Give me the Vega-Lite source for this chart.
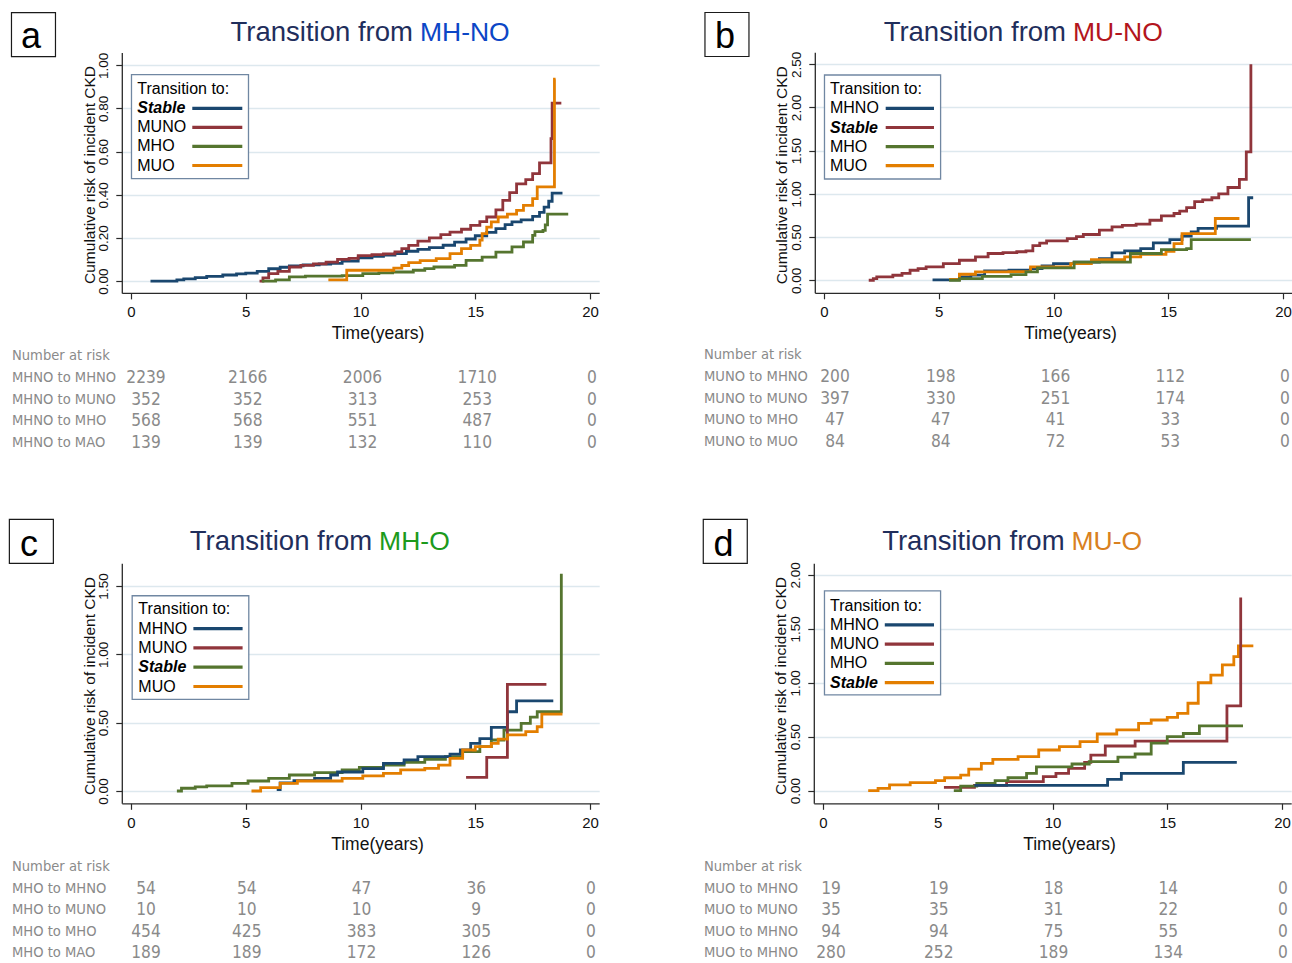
{
  "$schema": "https://vega.github.io/schema/vega-lite/v6.json",
  "padding": 0,
  "spacing": 0,
  "background": "#ffffff",
  "config": {
    "view": {"stroke": null},
    "font": "Liberation Sans",
    "text": {"font": "Liberation Sans"},
    "axis": {"domainColor": "#2a2a2a", "domainWidth": 1.3, "tickColor": "#2a2a2a", "tickWidth": 1.2, "tickSize": 6, "labelColor": "#111111", "titleColor": "#111111", "titleFontWeight": "normal", "labelFont": "Liberation Sans", "titleFont": "Liberation Sans", "labelOverlap": false}
  },
  "datasets": {
    "titles": [
      {"panel": "a", "letter": "a", "lead": "Transition from", "state": "MH-NO"},
      {"panel": "b", "letter": "b", "lead": "Transition from", "state": "MU-NO"},
      {"panel": "c", "letter": "c", "lead": "Transition from", "state": "MH-O"},
      {"panel": "d", "letter": "d", "lead": "Transition from", "state": "MU-O"}
    ],
    "legend": [
      {"panel": "a", "slot": 0, "kind": "title", "series": null, "label": "Transition to:"},
      {"panel": "a", "slot": 1, "kind": "stable", "series": "MHNO", "label": "Stable"},
      {"panel": "a", "slot": 2, "kind": "entry", "series": "MUNO", "label": "MUNO"},
      {"panel": "a", "slot": 3, "kind": "entry", "series": "MHO", "label": "MHO"},
      {"panel": "a", "slot": 4, "kind": "entry", "series": "MUO", "label": "MUO"},
      {"panel": "b", "slot": 0, "kind": "title", "series": null, "label": "Transition to:"},
      {"panel": "b", "slot": 1, "kind": "entry", "series": "MHNO", "label": "MHNO"},
      {"panel": "b", "slot": 2, "kind": "stable", "series": "MUNO", "label": "Stable"},
      {"panel": "b", "slot": 3, "kind": "entry", "series": "MHO", "label": "MHO"},
      {"panel": "b", "slot": 4, "kind": "entry", "series": "MUO", "label": "MUO"},
      {"panel": "c", "slot": 0, "kind": "title", "series": null, "label": "Transition to:"},
      {"panel": "c", "slot": 1, "kind": "entry", "series": "MHNO", "label": "MHNO"},
      {"panel": "c", "slot": 2, "kind": "entry", "series": "MUNO", "label": "MUNO"},
      {"panel": "c", "slot": 3, "kind": "stable", "series": "MHO", "label": "Stable"},
      {"panel": "c", "slot": 4, "kind": "entry", "series": "MUO", "label": "MUO"},
      {"panel": "d", "slot": 0, "kind": "title", "series": null, "label": "Transition to:"},
      {"panel": "d", "slot": 1, "kind": "entry", "series": "MHNO", "label": "MHNO"},
      {"panel": "d", "slot": 2, "kind": "entry", "series": "MUNO", "label": "MUNO"},
      {"panel": "d", "slot": 3, "kind": "entry", "series": "MHO", "label": "MHO"},
      {"panel": "d", "slot": 4, "kind": "stable", "series": "MUO", "label": "Stable"}
    ],
    "riskLabels": [
      {"panel": "a", "row": 0, "label": "Number at risk"},
      {"panel": "a", "row": 1, "label": "MHNO to MHNO"},
      {"panel": "a", "row": 2, "label": "MHNO to MUNO"},
      {"panel": "a", "row": 3, "label": "MHNO to MHO"},
      {"panel": "a", "row": 4, "label": "MHNO to MAO"},
      {"panel": "b", "row": 0, "label": "Number at risk"},
      {"panel": "b", "row": 1, "label": "MUNO to MHNO"},
      {"panel": "b", "row": 2, "label": "MUNO to MUNO"},
      {"panel": "b", "row": 3, "label": "MUNO to MHO"},
      {"panel": "b", "row": 4, "label": "MUNO to MUO"},
      {"panel": "c", "row": 0, "label": "Number at risk"},
      {"panel": "c", "row": 1, "label": "MHO to MHNO"},
      {"panel": "c", "row": 2, "label": "MHO to MUNO"},
      {"panel": "c", "row": 3, "label": "MHO to MHO"},
      {"panel": "c", "row": 4, "label": "MHO to MAO"},
      {"panel": "d", "row": 0, "label": "Number at risk"},
      {"panel": "d", "row": 1, "label": "MUO to MHNO"},
      {"panel": "d", "row": 2, "label": "MUO to MUNO"},
      {"panel": "d", "row": 3, "label": "MUO to MHNO"},
      {"panel": "d", "row": 4, "label": "MUO to MHNO"}
    ],
    "risk": [
      {"panel": "a", "row": 1, "t": 0, "n": 2239}, {"panel": "a", "row": 1, "t": 5, "n": 2166}, {"panel": "a", "row": 1, "t": 10, "n": 2006}, {"panel": "a", "row": 1, "t": 15, "n": 1710}, {"panel": "a", "row": 1, "t": 20, "n": 0},
      {"panel": "a", "row": 2, "t": 0, "n": 352}, {"panel": "a", "row": 2, "t": 5, "n": 352}, {"panel": "a", "row": 2, "t": 10, "n": 313}, {"panel": "a", "row": 2, "t": 15, "n": 253}, {"panel": "a", "row": 2, "t": 20, "n": 0},
      {"panel": "a", "row": 3, "t": 0, "n": 568}, {"panel": "a", "row": 3, "t": 5, "n": 568}, {"panel": "a", "row": 3, "t": 10, "n": 551}, {"panel": "a", "row": 3, "t": 15, "n": 487}, {"panel": "a", "row": 3, "t": 20, "n": 0},
      {"panel": "a", "row": 4, "t": 0, "n": 139}, {"panel": "a", "row": 4, "t": 5, "n": 139}, {"panel": "a", "row": 4, "t": 10, "n": 132}, {"panel": "a", "row": 4, "t": 15, "n": 110}, {"panel": "a", "row": 4, "t": 20, "n": 0},
      {"panel": "b", "row": 1, "t": 0, "n": 200}, {"panel": "b", "row": 1, "t": 5, "n": 198}, {"panel": "b", "row": 1, "t": 10, "n": 166}, {"panel": "b", "row": 1, "t": 15, "n": 112}, {"panel": "b", "row": 1, "t": 20, "n": 0},
      {"panel": "b", "row": 2, "t": 0, "n": 397}, {"panel": "b", "row": 2, "t": 5, "n": 330}, {"panel": "b", "row": 2, "t": 10, "n": 251}, {"panel": "b", "row": 2, "t": 15, "n": 174}, {"panel": "b", "row": 2, "t": 20, "n": 0},
      {"panel": "b", "row": 3, "t": 0, "n": 47}, {"panel": "b", "row": 3, "t": 5, "n": 47}, {"panel": "b", "row": 3, "t": 10, "n": 41}, {"panel": "b", "row": 3, "t": 15, "n": 33}, {"panel": "b", "row": 3, "t": 20, "n": 0},
      {"panel": "b", "row": 4, "t": 0, "n": 84}, {"panel": "b", "row": 4, "t": 5, "n": 84}, {"panel": "b", "row": 4, "t": 10, "n": 72}, {"panel": "b", "row": 4, "t": 15, "n": 53}, {"panel": "b", "row": 4, "t": 20, "n": 0},
      {"panel": "c", "row": 1, "t": 0, "n": 54}, {"panel": "c", "row": 1, "t": 5, "n": 54}, {"panel": "c", "row": 1, "t": 10, "n": 47}, {"panel": "c", "row": 1, "t": 15, "n": 36}, {"panel": "c", "row": 1, "t": 20, "n": 0},
      {"panel": "c", "row": 2, "t": 0, "n": 10}, {"panel": "c", "row": 2, "t": 5, "n": 10}, {"panel": "c", "row": 2, "t": 10, "n": 10}, {"panel": "c", "row": 2, "t": 15, "n": 9}, {"panel": "c", "row": 2, "t": 20, "n": 0},
      {"panel": "c", "row": 3, "t": 0, "n": 454}, {"panel": "c", "row": 3, "t": 5, "n": 425}, {"panel": "c", "row": 3, "t": 10, "n": 383}, {"panel": "c", "row": 3, "t": 15, "n": 305}, {"panel": "c", "row": 3, "t": 20, "n": 0},
      {"panel": "c", "row": 4, "t": 0, "n": 189}, {"panel": "c", "row": 4, "t": 5, "n": 189}, {"panel": "c", "row": 4, "t": 10, "n": 172}, {"panel": "c", "row": 4, "t": 15, "n": 126}, {"panel": "c", "row": 4, "t": 20, "n": 0},
      {"panel": "d", "row": 1, "t": 0, "n": 19}, {"panel": "d", "row": 1, "t": 5, "n": 19}, {"panel": "d", "row": 1, "t": 10, "n": 18}, {"panel": "d", "row": 1, "t": 15, "n": 14}, {"panel": "d", "row": 1, "t": 20, "n": 0},
      {"panel": "d", "row": 2, "t": 0, "n": 35}, {"panel": "d", "row": 2, "t": 5, "n": 35}, {"panel": "d", "row": 2, "t": 10, "n": 31}, {"panel": "d", "row": 2, "t": 15, "n": 22}, {"panel": "d", "row": 2, "t": 20, "n": 0},
      {"panel": "d", "row": 3, "t": 0, "n": 94}, {"panel": "d", "row": 3, "t": 5, "n": 94}, {"panel": "d", "row": 3, "t": 10, "n": 75}, {"panel": "d", "row": 3, "t": 15, "n": 55}, {"panel": "d", "row": 3, "t": 20, "n": 0},
      {"panel": "d", "row": 4, "t": 0, "n": 280}, {"panel": "d", "row": 4, "t": 5, "n": 252}, {"panel": "d", "row": 4, "t": 10, "n": 189}, {"panel": "d", "row": 4, "t": 15, "n": 134}, {"panel": "d", "row": 4, "t": 20, "n": 0}
    ],
    "curves": [
      {"panel": "a", "series": "MHNO", "t": 0.85, "v": 0}, {"panel": "a", "series": "MHNO", "t": 2.0, "v": 0.005}, {"panel": "a", "series": "MHNO", "t": 2.3, "v": 0.01}, {"panel": "a", "series": "MHNO", "t": 2.8, "v": 0.016}, {"panel": "a", "series": "MHNO", "t": 3.3, "v": 0.022}, {"panel": "a", "series": "MHNO", "t": 4.0, "v": 0.028}, {"panel": "a", "series": "MHNO", "t": 4.6, "v": 0.033}, {"panel": "a", "series": "MHNO", "t": 5.0, "v": 0.037}, {"panel": "a", "series": "MHNO", "t": 5.5, "v": 0.045}, {"panel": "a", "series": "MHNO", "t": 6.0, "v": 0.057}, {"panel": "a", "series": "MHNO", "t": 6.5, "v": 0.064}, {"panel": "a", "series": "MHNO", "t": 6.9, "v": 0.07}, {"panel": "a", "series": "MHNO", "t": 7.5, "v": 0.075}, {"panel": "a", "series": "MHNO", "t": 8.2, "v": 0.079}, {"panel": "a", "series": "MHNO", "t": 8.7, "v": 0.082}, {"panel": "a", "series": "MHNO", "t": 9.2, "v": 0.092}, {"panel": "a", "series": "MHNO", "t": 9.9, "v": 0.107}, {"panel": "a", "series": "MHNO", "t": 10.5, "v": 0.115}, {"panel": "a", "series": "MHNO", "t": 11.0, "v": 0.12}, {"panel": "a", "series": "MHNO", "t": 11.5, "v": 0.127}, {"panel": "a", "series": "MHNO", "t": 12.0, "v": 0.138}, {"panel": "a", "series": "MHNO", "t": 12.5, "v": 0.147}, {"panel": "a", "series": "MHNO", "t": 13.0, "v": 0.155}, {"panel": "a", "series": "MHNO", "t": 13.6, "v": 0.166}, {"panel": "a", "series": "MHNO", "t": 14.1, "v": 0.18}, {"panel": "a", "series": "MHNO", "t": 14.6, "v": 0.195}, {"panel": "a", "series": "MHNO", "t": 15.0, "v": 0.21}, {"panel": "a", "series": "MHNO", "t": 15.5, "v": 0.226}, {"panel": "a", "series": "MHNO", "t": 15.9, "v": 0.243}, {"panel": "a", "series": "MHNO", "t": 16.3, "v": 0.262}, {"panel": "a", "series": "MHNO", "t": 16.6, "v": 0.274}, {"panel": "a", "series": "MHNO", "t": 17.0, "v": 0.284}, {"panel": "a", "series": "MHNO", "t": 17.5, "v": 0.3}, {"panel": "a", "series": "MHNO", "t": 17.8, "v": 0.318}, {"panel": "a", "series": "MHNO", "t": 18.0, "v": 0.343}, {"panel": "a", "series": "MHNO", "t": 18.2, "v": 0.37}, {"panel": "a", "series": "MHNO", "t": 18.35, "v": 0.408}, {"panel": "a", "series": "MHNO", "t": 18.8, "v": 0.408},
      {"panel": "a", "series": "MUNO", "t": 5.6, "v": 0}, {"panel": "a", "series": "MUNO", "t": 5.75, "v": 0.015}, {"panel": "a", "series": "MUNO", "t": 6.0, "v": 0.034}, {"panel": "a", "series": "MUNO", "t": 6.4, "v": 0.045}, {"panel": "a", "series": "MUNO", "t": 6.9, "v": 0.065}, {"panel": "a", "series": "MUNO", "t": 7.4, "v": 0.073}, {"panel": "a", "series": "MUNO", "t": 7.95, "v": 0.08}, {"panel": "a", "series": "MUNO", "t": 8.5, "v": 0.088}, {"panel": "a", "series": "MUNO", "t": 9.0, "v": 0.1}, {"panel": "a", "series": "MUNO", "t": 9.5, "v": 0.105}, {"panel": "a", "series": "MUNO", "t": 9.9, "v": 0.118}, {"panel": "a", "series": "MUNO", "t": 10.5, "v": 0.122}, {"panel": "a", "series": "MUNO", "t": 11.0, "v": 0.126}, {"panel": "a", "series": "MUNO", "t": 11.5, "v": 0.135}, {"panel": "a", "series": "MUNO", "t": 11.8, "v": 0.15}, {"panel": "a", "series": "MUNO", "t": 12.1, "v": 0.165}, {"panel": "a", "series": "MUNO", "t": 12.5, "v": 0.185}, {"panel": "a", "series": "MUNO", "t": 13.0, "v": 0.2}, {"panel": "a", "series": "MUNO", "t": 13.5, "v": 0.215}, {"panel": "a", "series": "MUNO", "t": 13.9, "v": 0.227}, {"panel": "a", "series": "MUNO", "t": 14.4, "v": 0.24}, {"panel": "a", "series": "MUNO", "t": 14.8, "v": 0.258}, {"panel": "a", "series": "MUNO", "t": 15.2, "v": 0.275}, {"panel": "a", "series": "MUNO", "t": 15.5, "v": 0.297}, {"panel": "a", "series": "MUNO", "t": 15.9, "v": 0.33}, {"panel": "a", "series": "MUNO", "t": 16.2, "v": 0.374}, {"panel": "a", "series": "MUNO", "t": 16.5, "v": 0.41}, {"panel": "a", "series": "MUNO", "t": 16.8, "v": 0.45}, {"panel": "a", "series": "MUNO", "t": 17.2, "v": 0.47}, {"panel": "a", "series": "MUNO", "t": 17.5, "v": 0.498}, {"panel": "a", "series": "MUNO", "t": 17.8, "v": 0.548}, {"panel": "a", "series": "MUNO", "t": 18.3, "v": 0.66}, {"panel": "a", "series": "MUNO", "t": 18.35, "v": 0.825}, {"panel": "a", "series": "MUNO", "t": 18.75, "v": 0.825},
      {"panel": "a", "series": "MHO", "t": 5.7, "v": 0}, {"panel": "a", "series": "MHO", "t": 6.3, "v": 0.005}, {"panel": "a", "series": "MHO", "t": 6.9, "v": 0.019}, {"panel": "a", "series": "MHO", "t": 7.6, "v": 0.023}, {"panel": "a", "series": "MHO", "t": 9.2, "v": 0.025}, {"panel": "a", "series": "MHO", "t": 10.1, "v": 0.034}, {"panel": "a", "series": "MHO", "t": 10.8, "v": 0.038}, {"panel": "a", "series": "MHO", "t": 11.4, "v": 0.042}, {"panel": "a", "series": "MHO", "t": 12.3, "v": 0.05}, {"panel": "a", "series": "MHO", "t": 12.8, "v": 0.058}, {"panel": "a", "series": "MHO", "t": 13.2, "v": 0.065}, {"panel": "a", "series": "MHO", "t": 14.1, "v": 0.073}, {"panel": "a", "series": "MHO", "t": 14.6, "v": 0.096}, {"panel": "a", "series": "MHO", "t": 15.3, "v": 0.111}, {"panel": "a", "series": "MHO", "t": 15.9, "v": 0.134}, {"panel": "a", "series": "MHO", "t": 16.6, "v": 0.158}, {"panel": "a", "series": "MHO", "t": 17.1, "v": 0.181}, {"panel": "a", "series": "MHO", "t": 17.5, "v": 0.212}, {"panel": "a", "series": "MHO", "t": 17.6, "v": 0.229}, {"panel": "a", "series": "MHO", "t": 17.95, "v": 0.235}, {"panel": "a", "series": "MHO", "t": 18.05, "v": 0.26}, {"panel": "a", "series": "MHO", "t": 18.15, "v": 0.31}, {"panel": "a", "series": "MHO", "t": 19.05, "v": 0.31},
      {"panel": "a", "series": "MUO", "t": 8.6, "v": 0.005}, {"panel": "a", "series": "MUO", "t": 9.4, "v": 0.05}, {"panel": "a", "series": "MUO", "t": 11.45, "v": 0.06}, {"panel": "a", "series": "MUO", "t": 11.8, "v": 0.072}, {"panel": "a", "series": "MUO", "t": 12.1, "v": 0.085}, {"panel": "a", "series": "MUO", "t": 12.6, "v": 0.095}, {"panel": "a", "series": "MUO", "t": 13.3, "v": 0.104}, {"panel": "a", "series": "MUO", "t": 13.9, "v": 0.127}, {"panel": "a", "series": "MUO", "t": 14.4, "v": 0.15}, {"panel": "a", "series": "MUO", "t": 14.8, "v": 0.165}, {"panel": "a", "series": "MUO", "t": 15.2, "v": 0.19}, {"panel": "a", "series": "MUO", "t": 15.3, "v": 0.22}, {"panel": "a", "series": "MUO", "t": 15.5, "v": 0.25}, {"panel": "a", "series": "MUO", "t": 15.7, "v": 0.274}, {"panel": "a", "series": "MUO", "t": 16.0, "v": 0.297}, {"panel": "a", "series": "MUO", "t": 16.4, "v": 0.31}, {"panel": "a", "series": "MUO", "t": 16.8, "v": 0.328}, {"panel": "a", "series": "MUO", "t": 17.1, "v": 0.351}, {"panel": "a", "series": "MUO", "t": 17.5, "v": 0.382}, {"panel": "a", "series": "MUO", "t": 17.7, "v": 0.437}, {"panel": "a", "series": "MUO", "t": 18.45, "v": 0.936}, {"panel": "a", "series": "MUO", "t": 18.5, "v": 0.936},
      {"panel": "b", "series": "MUNO", "t": 1.95, "v": 0}, {"panel": "b", "series": "MUNO", "t": 2.15, "v": 0.02}, {"panel": "b", "series": "MUNO", "t": 2.3, "v": 0.04}, {"panel": "b", "series": "MUNO", "t": 3.0, "v": 0.058}, {"panel": "b", "series": "MUNO", "t": 3.4, "v": 0.08}, {"panel": "b", "series": "MUNO", "t": 3.75, "v": 0.116}, {"panel": "b", "series": "MUNO", "t": 4.1, "v": 0.135}, {"panel": "b", "series": "MUNO", "t": 4.45, "v": 0.155}, {"panel": "b", "series": "MUNO", "t": 5.2, "v": 0.193}, {"panel": "b", "series": "MUNO", "t": 5.9, "v": 0.232}, {"panel": "b", "series": "MUNO", "t": 6.6, "v": 0.27}, {"panel": "b", "series": "MUNO", "t": 7.15, "v": 0.31}, {"panel": "b", "series": "MUNO", "t": 7.8, "v": 0.32}, {"panel": "b", "series": "MUNO", "t": 8.4, "v": 0.33}, {"panel": "b", "series": "MUNO", "t": 8.8, "v": 0.34}, {"panel": "b", "series": "MUNO", "t": 9.1, "v": 0.4}, {"panel": "b", "series": "MUNO", "t": 9.4, "v": 0.43}, {"panel": "b", "series": "MUNO", "t": 9.7, "v": 0.456}, {"panel": "b", "series": "MUNO", "t": 10.6, "v": 0.483}, {"panel": "b", "series": "MUNO", "t": 11.0, "v": 0.505}, {"panel": "b", "series": "MUNO", "t": 11.3, "v": 0.53}, {"panel": "b", "series": "MUNO", "t": 12.0, "v": 0.58}, {"panel": "b", "series": "MUNO", "t": 12.55, "v": 0.618}, {"panel": "b", "series": "MUNO", "t": 13.0, "v": 0.635}, {"panel": "b", "series": "MUNO", "t": 13.6, "v": 0.65}, {"panel": "b", "series": "MUNO", "t": 14.2, "v": 0.695}, {"panel": "b", "series": "MUNO", "t": 14.7, "v": 0.746}, {"panel": "b", "series": "MUNO", "t": 15.25, "v": 0.773}, {"panel": "b", "series": "MUNO", "t": 15.5, "v": 0.8}, {"panel": "b", "series": "MUNO", "t": 15.8, "v": 0.84}, {"panel": "b", "series": "MUNO", "t": 16.15, "v": 0.91}, {"panel": "b", "series": "MUNO", "t": 16.5, "v": 0.93}, {"panel": "b", "series": "MUNO", "t": 16.9, "v": 0.955}, {"panel": "b", "series": "MUNO", "t": 17.2, "v": 1.0}, {"panel": "b", "series": "MUNO", "t": 17.6, "v": 1.074}, {"panel": "b", "series": "MUNO", "t": 18.1, "v": 1.167}, {"panel": "b", "series": "MUNO", "t": 18.4, "v": 1.487}, {"panel": "b", "series": "MUNO", "t": 18.6, "v": 2.5},
      {"panel": "b", "series": "MHNO", "t": 4.73, "v": 0.005}, {"panel": "b", "series": "MHNO", "t": 5.9, "v": 0.04}, {"panel": "b", "series": "MHNO", "t": 6.4, "v": 0.06}, {"panel": "b", "series": "MHNO", "t": 7.0, "v": 0.108}, {"panel": "b", "series": "MHNO", "t": 8.06, "v": 0.116}, {"panel": "b", "series": "MHNO", "t": 9.0, "v": 0.135}, {"panel": "b", "series": "MHNO", "t": 9.5, "v": 0.166}, {"panel": "b", "series": "MHNO", "t": 10.0, "v": 0.193}, {"panel": "b", "series": "MHNO", "t": 10.9, "v": 0.21}, {"panel": "b", "series": "MHNO", "t": 12.0, "v": 0.25}, {"panel": "b", "series": "MHNO", "t": 12.55, "v": 0.317}, {"panel": "b", "series": "MHNO", "t": 13.1, "v": 0.34}, {"panel": "b", "series": "MHNO", "t": 13.8, "v": 0.367}, {"panel": "b", "series": "MHNO", "t": 14.35, "v": 0.433}, {"panel": "b", "series": "MHNO", "t": 15.07, "v": 0.47}, {"panel": "b", "series": "MHNO", "t": 15.6, "v": 0.51}, {"panel": "b", "series": "MHNO", "t": 16.0, "v": 0.56}, {"panel": "b", "series": "MHNO", "t": 16.3, "v": 0.6}, {"panel": "b", "series": "MHNO", "t": 17.1, "v": 0.626}, {"panel": "b", "series": "MHNO", "t": 18.5, "v": 0.955}, {"panel": "b", "series": "MHNO", "t": 18.7, "v": 0.955},
      {"panel": "b", "series": "MUO", "t": 5.45, "v": 0.01}, {"panel": "b", "series": "MUO", "t": 5.9, "v": 0.07}, {"panel": "b", "series": "MUO", "t": 6.6, "v": 0.097}, {"panel": "b", "series": "MUO", "t": 8.06, "v": 0.1}, {"panel": "b", "series": "MUO", "t": 9.0, "v": 0.155}, {"panel": "b", "series": "MUO", "t": 10.75, "v": 0.193}, {"panel": "b", "series": "MUO", "t": 11.65, "v": 0.24}, {"panel": "b", "series": "MUO", "t": 13.1, "v": 0.27}, {"panel": "b", "series": "MUO", "t": 13.8, "v": 0.3}, {"panel": "b", "series": "MUO", "t": 14.9, "v": 0.336}, {"panel": "b", "series": "MUO", "t": 15.25, "v": 0.425}, {"panel": "b", "series": "MUO", "t": 15.6, "v": 0.54}, {"panel": "b", "series": "MUO", "t": 17.05, "v": 0.715}, {"panel": "b", "series": "MUO", "t": 18.1, "v": 0.715},
      {"panel": "b", "series": "MHO", "t": 5.45, "v": 0.0}, {"panel": "b", "series": "MHO", "t": 5.9, "v": 0.02}, {"panel": "b", "series": "MHO", "t": 6.9, "v": 0.045}, {"panel": "b", "series": "MHO", "t": 8.15, "v": 0.066}, {"panel": "b", "series": "MHO", "t": 8.8, "v": 0.097}, {"panel": "b", "series": "MHO", "t": 9.3, "v": 0.143}, {"panel": "b", "series": "MHO", "t": 10.9, "v": 0.21}, {"panel": "b", "series": "MHO", "t": 13.35, "v": 0.31}, {"panel": "b", "series": "MHO", "t": 14.7, "v": 0.355}, {"panel": "b", "series": "MHO", "t": 15.8, "v": 0.367}, {"panel": "b", "series": "MHO", "t": 16.0, "v": 0.47}, {"panel": "b", "series": "MHO", "t": 18.6, "v": 0.47},
      {"panel": "c", "series": "MHO", "t": 2.0, "v": 0}, {"panel": "c", "series": "MHO", "t": 2.2, "v": 0.02}, {"panel": "c", "series": "MHO", "t": 2.8, "v": 0.03}, {"panel": "c", "series": "MHO", "t": 3.3, "v": 0.037}, {"panel": "c", "series": "MHO", "t": 4.4, "v": 0.056}, {"panel": "c", "series": "MHO", "t": 5.1, "v": 0.073}, {"panel": "c", "series": "MHO", "t": 6.0, "v": 0.093}, {"panel": "c", "series": "MHO", "t": 6.9, "v": 0.117}, {"panel": "c", "series": "MHO", "t": 8.0, "v": 0.134}, {"panel": "c", "series": "MHO", "t": 9.2, "v": 0.154}, {"panel": "c", "series": "MHO", "t": 9.95, "v": 0.173}, {"panel": "c", "series": "MHO", "t": 11.0, "v": 0.19}, {"panel": "c", "series": "MHO", "t": 11.9, "v": 0.21}, {"panel": "c", "series": "MHO", "t": 12.8, "v": 0.232}, {"panel": "c", "series": "MHO", "t": 13.7, "v": 0.251}, {"panel": "c", "series": "MHO", "t": 14.45, "v": 0.288}, {"panel": "c", "series": "MHO", "t": 15.2, "v": 0.324}, {"panel": "c", "series": "MHO", "t": 15.7, "v": 0.373}, {"panel": "c", "series": "MHO", "t": 16.25, "v": 0.446}, {"panel": "c", "series": "MHO", "t": 17.0, "v": 0.495}, {"panel": "c", "series": "MHO", "t": 17.4, "v": 0.54}, {"panel": "c", "series": "MHO", "t": 17.7, "v": 0.58}, {"panel": "c", "series": "MHO", "t": 18.75, "v": 1.59},
      {"panel": "c", "series": "MHNO", "t": 6.35, "v": 0.01}, {"panel": "c", "series": "MHNO", "t": 6.5, "v": 0.06}, {"panel": "c", "series": "MHNO", "t": 7.1, "v": 0.076}, {"panel": "c", "series": "MHNO", "t": 8.0, "v": 0.093}, {"panel": "c", "series": "MHNO", "t": 8.7, "v": 0.117}, {"panel": "c", "series": "MHNO", "t": 9.0, "v": 0.139}, {"panel": "c", "series": "MHNO", "t": 10.1, "v": 0.163}, {"panel": "c", "series": "MHNO", "t": 11.0, "v": 0.202}, {"panel": "c", "series": "MHNO", "t": 11.9, "v": 0.227}, {"panel": "c", "series": "MHNO", "t": 12.5, "v": 0.251}, {"panel": "c", "series": "MHNO", "t": 13.9, "v": 0.27}, {"panel": "c", "series": "MHNO", "t": 14.35, "v": 0.3}, {"panel": "c", "series": "MHNO", "t": 14.8, "v": 0.349}, {"panel": "c", "series": "MHNO", "t": 15.2, "v": 0.383}, {"panel": "c", "series": "MHNO", "t": 15.7, "v": 0.466}, {"panel": "c", "series": "MHNO", "t": 16.4, "v": 0.58}, {"panel": "c", "series": "MHNO", "t": 16.8, "v": 0.66}, {"panel": "c", "series": "MHNO", "t": 18.4, "v": 0.66},
      {"panel": "c", "series": "MUNO", "t": 14.6, "v": 0.1}, {"panel": "c", "series": "MUNO", "t": 15.5, "v": 0.246}, {"panel": "c", "series": "MUNO", "t": 16.4, "v": 0.78}, {"panel": "c", "series": "MUNO", "t": 18.1, "v": 0.78},
      {"panel": "c", "series": "MUO", "t": 5.25, "v": 0.0}, {"panel": "c", "series": "MUO", "t": 5.65, "v": 0.024}, {"panel": "c", "series": "MUO", "t": 6.5, "v": 0.056}, {"panel": "c", "series": "MUO", "t": 7.25, "v": 0.073}, {"panel": "c", "series": "MUO", "t": 9.2, "v": 0.093}, {"panel": "c", "series": "MUO", "t": 10.1, "v": 0.11}, {"panel": "c", "series": "MUO", "t": 11.0, "v": 0.129}, {"panel": "c", "series": "MUO", "t": 11.75, "v": 0.154}, {"panel": "c", "series": "MUO", "t": 12.8, "v": 0.166}, {"panel": "c", "series": "MUO", "t": 13.4, "v": 0.19}, {"panel": "c", "series": "MUO", "t": 13.9, "v": 0.239}, {"panel": "c", "series": "MUO", "t": 14.45, "v": 0.3}, {"panel": "c", "series": "MUO", "t": 15.0, "v": 0.324}, {"panel": "c", "series": "MUO", "t": 15.7, "v": 0.349}, {"panel": "c", "series": "MUO", "t": 16.0, "v": 0.38}, {"panel": "c", "series": "MUO", "t": 16.4, "v": 0.41}, {"panel": "c", "series": "MUO", "t": 17.2, "v": 0.434}, {"panel": "c", "series": "MUO", "t": 17.7, "v": 0.47}, {"panel": "c", "series": "MUO", "t": 17.9, "v": 0.563}, {"panel": "c", "series": "MUO", "t": 18.8, "v": 0.563},
      {"panel": "d", "series": "MUO", "t": 1.97, "v": 0}, {"panel": "d", "series": "MUO", "t": 2.4, "v": 0.022}, {"panel": "d", "series": "MUO", "t": 2.9, "v": 0.053}, {"panel": "d", "series": "MUO", "t": 3.8, "v": 0.074}, {"panel": "d", "series": "MUO", "t": 4.9, "v": 0.093}, {"panel": "d", "series": "MUO", "t": 5.3, "v": 0.12}, {"panel": "d", "series": "MUO", "t": 6.0, "v": 0.145}, {"panel": "d", "series": "MUO", "t": 6.35, "v": 0.2}, {"panel": "d", "series": "MUO", "t": 6.9, "v": 0.253}, {"panel": "d", "series": "MUO", "t": 7.4, "v": 0.29}, {"panel": "d", "series": "MUO", "t": 8.5, "v": 0.315}, {"panel": "d", "series": "MUO", "t": 9.4, "v": 0.377}, {"panel": "d", "series": "MUO", "t": 10.3, "v": 0.408}, {"panel": "d", "series": "MUO", "t": 11.2, "v": 0.454}, {"panel": "d", "series": "MUO", "t": 11.95, "v": 0.525}, {"panel": "d", "series": "MUO", "t": 12.8, "v": 0.563}, {"panel": "d", "series": "MUO", "t": 13.75, "v": 0.624}, {"panel": "d", "series": "MUO", "t": 14.3, "v": 0.655}, {"panel": "d", "series": "MUO", "t": 15.0, "v": 0.68}, {"panel": "d", "series": "MUO", "t": 15.45, "v": 0.717}, {"panel": "d", "series": "MUO", "t": 15.9, "v": 0.81}, {"panel": "d", "series": "MUO", "t": 16.35, "v": 1.0}, {"panel": "d", "series": "MUO", "t": 16.9, "v": 1.07}, {"panel": "d", "series": "MUO", "t": 17.4, "v": 1.165}, {"panel": "d", "series": "MUO", "t": 17.9, "v": 1.243}, {"panel": "d", "series": "MUO", "t": 18.1, "v": 1.342}, {"panel": "d", "series": "MUO", "t": 18.75, "v": 1.342},
      {"panel": "d", "series": "MUNO", "t": 5.27, "v": 0.03}, {"panel": "d", "series": "MUNO", "t": 6.6, "v": 0.05}, {"panel": "d", "series": "MUNO", "t": 8.0, "v": 0.083}, {"panel": "d", "series": "MUNO", "t": 9.6, "v": 0.13}, {"panel": "d", "series": "MUNO", "t": 10.15, "v": 0.16}, {"panel": "d", "series": "MUNO", "t": 10.7, "v": 0.207}, {"panel": "d", "series": "MUNO", "t": 11.4, "v": 0.263}, {"panel": "d", "series": "MUNO", "t": 11.67, "v": 0.33}, {"panel": "d", "series": "MUNO", "t": 12.3, "v": 0.414}, {"panel": "d", "series": "MUNO", "t": 13.6, "v": 0.46}, {"panel": "d", "series": "MUNO", "t": 17.6, "v": 0.785}, {"panel": "d", "series": "MUNO", "t": 18.2, "v": 1.79},
      {"panel": "d", "series": "MHO", "t": 5.7, "v": 0.0}, {"panel": "d", "series": "MHO", "t": 6.0, "v": 0.043}, {"panel": "d", "series": "MHO", "t": 6.7, "v": 0.068}, {"panel": "d", "series": "MHO", "t": 7.5, "v": 0.093}, {"panel": "d", "series": "MHO", "t": 8.06, "v": 0.12}, {"panel": "d", "series": "MHO", "t": 8.87, "v": 0.16}, {"panel": "d", "series": "MHO", "t": 9.3, "v": 0.22}, {"panel": "d", "series": "MHO", "t": 10.85, "v": 0.247}, {"panel": "d", "series": "MHO", "t": 11.6, "v": 0.269}, {"panel": "d", "series": "MHO", "t": 12.85, "v": 0.31}, {"panel": "d", "series": "MHO", "t": 13.6, "v": 0.34}, {"panel": "d", "series": "MHO", "t": 14.3, "v": 0.44}, {"panel": "d", "series": "MHO", "t": 15.0, "v": 0.5}, {"panel": "d", "series": "MHO", "t": 15.7, "v": 0.53}, {"panel": "d", "series": "MHO", "t": 16.4, "v": 0.6}, {"panel": "d", "series": "MHO", "t": 18.3, "v": 0.6},
      {"panel": "d", "series": "MHNO", "t": 6.6, "v": 0.05}, {"panel": "d", "series": "MHNO", "t": 12.4, "v": 0.105}, {"panel": "d", "series": "MHNO", "t": 13.0, "v": 0.16}, {"panel": "d", "series": "MHNO", "t": 15.7, "v": 0.263}, {"panel": "d", "series": "MHNO", "t": 18.03, "v": 0.263}
    ]
  },
  "vconcat": [
    {
      "spacing": 0,
      "hconcat": [
        {
          "width": 646, "height": 481,
          "resolve": {"scale": {"y": "independent"}, "axis": {"y": "independent"}},
          "layer": [
            {
              "layer": [
                {
                  "data": {"name": "curves"}, "transform": [{"filter": "datum.panel === 'a'"}],
                  "mark": {"type": "line", "interpolate": "step-after", "strokeWidth": 2.8},
                  "encoding": {
                    "x": {"field": "t", "type": "quantitative", "scale": {"domain": [-0.4, 20.4], "range": [121.8, 599.2], "nice": false, "zero": false}, "axis": {"values": [0, 5, 10, 15, 20], "title": "Time(years)", "offset": -188.1, "titleX": 377.5, "titleY": 46, "grid": false, "tickSize": 6, "labelFontSize": 15, "labelPadding": 6, "labelFlush": false, "titleFontSize": 17.5, "titleBaseline": "alphabetic", "titleAlign": "center"}},
                    "y": {"field": "v", "type": "quantitative", "scale": {"domain": [-0.055, 1.06], "range": [292.9, 52.4], "nice": false, "zero": false}, "axis": {"values": [0, 0.2, 0.4, 0.6, 0.8, 1], "format": ".2f", "title": "Cumulative risk of incident CKD", "offset": -121.8, "titleX": -27, "titleY": 174.5, "grid": true, "gridColor": "#dde8ee", "gridWidth": 1.3, "tickSize": 6, "labelFontSize": 13.5, "labelAngle": 270, "labelAlign": "center", "labelBaseline": "alphabetic", "labelPadding": 8.5, "labelFlush": false, "titleFontSize": 15.5, "titleAngle": 270, "titleAlign": "center", "titleBaseline": "alphabetic"}},
                    "color": {"field": "series", "type": "nominal", "scale": {"domain": ["MHNO", "MUNO", "MHO", "MUO"], "range": ["#1a476f", "#90353b", "#55752f", "#e37e00"]}, "legend": null}
                  }
                },
                {
                  "data": {"name": "titles"}, "transform": [{"filter": "datum.panel === 'a'"}],
                  "mark": {"type": "rect", "fill": "#ffffff", "stroke": "#7087a2", "strokeWidth": 1.3},
                  "encoding": {
                    "x": {"datum": 0.022, "type": "quantitative", "scale": {"domain": [-0.4, 20.4], "range": [121.8, 599.2], "nice": false, "zero": false}},
                    "x2": {"datum": 5.12},
                    "y": {"datum": 0.9573, "type": "quantitative", "scale": {"domain": [-0.055, 1.06], "range": [292.9, 52.4], "nice": false, "zero": false}},
                    "y2": {"datum": 0.4752}
                  }
                },
                {
                  "data": {"name": "titles"}, "transform": [{"filter": "datum.panel === 'a'"}],
                  "mark": {"type": "point", "shape": "square", "size": 1936, "filled": true, "fill": "#ffffff", "stroke": "#1a1a1a", "strokeWidth": 1.2, "opacity": 1},
                  "encoding": {
                    "x": {"datum": -4.248, "type": "quantitative", "scale": {"domain": [-0.4, 20.4], "range": [121.8, 599.2], "nice": false, "zero": false}},
                    "y": {"datum": 1.1428, "type": "quantitative", "scale": {"domain": [-0.055, 1.06], "range": [292.9, 52.4], "nice": false, "zero": false}}
                  }
                },
                {
                  "data": {"name": "titles"}, "transform": [{"filter": "datum.panel === 'a'"}],
                  "mark": {"type": "text", "align": "center", "baseline": "alphabetic", "fontSize": 36, "color": "#000000"},
                  "encoding": {
                    "x": {"datum": -4.357, "type": "quantitative", "scale": {"domain": [-0.4, 20.4], "range": [121.8, 599.2], "nice": false, "zero": false}},
                    "y": {"datum": 1.0788, "type": "quantitative", "scale": {"domain": [-0.055, 1.06], "range": [292.9, 52.4], "nice": false, "zero": false}},
                    "text": {"field": "letter"}
                  }
                },
                {
                  "data": {"name": "titles"}, "transform": [{"filter": "datum.panel === 'a'"}],
                  "mark": {"type": "text", "align": "right", "baseline": "middle", "dx": -7, "fontSize": 27.5, "color": "#1f2e5c"},
                  "encoding": {
                    "x": {"datum": 12.59, "type": "quantitative", "scale": {"domain": [-0.4, 20.4], "range": [121.8, 599.2], "nice": false, "zero": false}},
                    "y": {"datum": 1.1498, "type": "quantitative", "scale": {"domain": [-0.055, 1.06], "range": [292.9, 52.4], "nice": false, "zero": false}},
                    "text": {"field": "lead"}
                  }
                },
                {
                  "data": {"name": "titles"}, "transform": [{"filter": "datum.panel === 'a'"}],
                  "mark": {"type": "text", "align": "left", "baseline": "middle", "fontSize": 26.5, "color": "#0c46c6"},
                  "encoding": {
                    "x": {"datum": 12.59, "type": "quantitative", "scale": {"domain": [-0.4, 20.4], "range": [121.8, 599.2], "nice": false, "zero": false}},
                    "y": {"datum": 1.1498, "type": "quantitative", "scale": {"domain": [-0.055, 1.06], "range": [292.9, 52.4], "nice": false, "zero": false}},
                    "text": {"field": "state"}
                  }
                }
              ]
            },
            {
              "data": {"name": "legend"}, "transform": [{"filter": "datum.panel === 'a'"}],
              "encoding": {"y": {"field": "slot", "type": "quantitative", "scale": {"domain": [0, 4], "range": [89.3, 165.5], "nice": false, "zero": false}, "axis": null}},
              "layer": [
                {
                  "transform": [{"filter": "datum.kind !== 'stable'"}],
                  "mark": {"type": "text", "align": "left", "baseline": "middle", "fontSize": 16, "color": "#000000"},
                  "encoding": {"x": {"datum": 0.2745, "type": "quantitative", "scale": {"domain": [-0.4, 20.4], "range": [121.8, 599.2], "nice": false, "zero": false}}, "text": {"field": "label"}}
                },
                {
                  "transform": [{"filter": "datum.kind === 'stable'"}],
                  "mark": {"type": "text", "align": "left", "baseline": "middle", "fontSize": 16, "fontWeight": "bold", "fontStyle": "italic", "color": "#000000"},
                  "encoding": {"x": {"datum": 0.2745, "type": "quantitative", "scale": {"domain": [-0.4, 20.4], "range": [121.8, 599.2], "nice": false, "zero": false}}, "text": {"field": "label"}}
                },
                {
                  "transform": [{"filter": "datum.slot > 0"}],
                  "mark": {"type": "rule", "strokeWidth": 3.2},
                  "encoding": {
                    "x": {"datum": 2.671, "type": "quantitative", "scale": {"domain": [-0.4, 20.4], "range": [121.8, 599.2], "nice": false, "zero": false}},
                    "x2": {"datum": 4.85},
                    "color": {"field": "series", "type": "nominal", "scale": {"domain": ["MHNO", "MUNO", "MHO", "MUO"], "range": ["#1a476f", "#90353b", "#55752f", "#e37e00"]}, "legend": null}
                  }
                }
              ]
            },
            {
              "encoding": {"y": {"field": "row", "type": "quantitative", "scale": {"domain": [0, 4], "range": [356, 443], "nice": false, "zero": false}, "axis": null}},
              "layer": [
                {
                  "data": {"name": "riskLabels"}, "transform": [{"filter": "datum.panel === 'a'"}],
                  "mark": {"type": "text", "align": "left", "baseline": "middle", "font": "DejaVu Sans Condensed", "fontSize": 14.6, "color": "#8a8a8a"},
                  "encoding": {"x": {"datum": -5.185, "type": "quantitative", "scale": {"domain": [-0.4, 20.4], "range": [121.8, 599.2], "nice": false, "zero": false}}, "text": {"field": "label"}}
                },
                {
                  "data": {"name": "risk"}, "transform": [{"filter": "datum.panel === 'a' && datum.t === 0"}],
                  "mark": {"type": "text", "align": "center", "baseline": "middle", "dx": 15, "font": "DejaVu Sans Condensed", "fontSize": 17.2, "color": "#8a8a8a"},
                  "encoding": {"x": {"field": "t", "type": "quantitative", "scale": {"domain": [-0.4, 20.4], "range": [121.8, 599.2], "nice": false, "zero": false}}, "text": {"field": "n", "type": "nominal"}}
                },
                {
                  "data": {"name": "risk"}, "transform": [{"filter": "datum.panel === 'a' && datum.t > 0"}],
                  "mark": {"type": "text", "align": "center", "baseline": "middle", "dx": 2, "font": "DejaVu Sans Condensed", "fontSize": 17.2, "color": "#8a8a8a"},
                  "encoding": {"x": {"field": "t", "type": "quantitative", "scale": {"domain": [-0.4, 20.4], "range": [121.8, 599.2], "nice": false, "zero": false}}, "text": {"field": "n", "type": "nominal"}}
                }
              ]
            }
          ]
        },
        {
          "width": 646, "height": 481,
          "resolve": {"scale": {"y": "independent"}, "axis": {"y": "independent"}},
          "layer": [
            {
              "layer": [
                {
                  "data": {"name": "curves"}, "transform": [{"filter": "datum.panel === 'b'"}],
                  "mark": {"type": "line", "interpolate": "step-after", "strokeWidth": 2.8},
                  "encoding": {
                    "x": {"field": "t", "type": "quantitative", "scale": {"domain": [-0.4, 20.4], "range": [168.8, 646.2], "nice": false, "zero": false}, "axis": {"values": [0, 5, 10, 15, 20], "title": "Time(years)", "offset": -188.2, "titleX": 424, "titleY": 46, "grid": false, "tickSize": 6, "labelFontSize": 15, "labelPadding": 6, "labelFlush": false, "titleFontSize": 17.5, "titleBaseline": "alphabetic", "titleAlign": "center"}},
                    "y": {"field": "v", "type": "quantitative", "scale": {"domain": [-0.145, 2.64], "range": [292.8, 52.2], "nice": false, "zero": false}, "axis": {"values": [0, 0.5, 1, 1.5, 2, 2.5], "format": ".2f", "title": "Cumulative risk of incident CKD", "offset": -168.8, "titleX": -28.5, "titleY": 174.7, "grid": true, "gridColor": "#dde8ee", "gridWidth": 1.3, "tickSize": 6, "labelFontSize": 13.5, "labelAngle": 270, "labelAlign": "center", "labelBaseline": "alphabetic", "labelPadding": 8.5, "labelFlush": false, "titleFontSize": 15.5, "titleAngle": 270, "titleAlign": "center", "titleBaseline": "alphabetic"}},
                    "color": {"field": "series", "type": "nominal", "scale": {"domain": ["MHNO", "MUNO", "MHO", "MUO"], "range": ["#1a476f", "#90353b", "#55752f", "#e37e00"]}, "legend": null}
                  }
                },
                {
                  "data": {"name": "titles"}, "transform": [{"filter": "datum.panel === 'b'"}],
                  "mark": {"type": "rect", "fill": "#ffffff", "stroke": "#7087a2", "strokeWidth": 1.3},
                  "encoding": {
                    "x": {"datum": 0.022, "type": "quantitative", "scale": {"domain": [-0.4, 20.4], "range": [168.8, 646.2], "nice": false, "zero": false}},
                    "x2": {"datum": 5.081},
                    "y": {"datum": 2.376, "type": "quantitative", "scale": {"domain": [-0.145, 2.64], "range": [292.8, 52.2], "nice": false, "zero": false}},
                    "y2": {"datum": 1.1725}
                  }
                },
                {
                  "data": {"name": "titles"}, "transform": [{"filter": "datum.panel === 'b'"}],
                  "mark": {"type": "point", "shape": "square", "size": 1936, "filled": true, "fill": "#ffffff", "stroke": "#1a1a1a", "strokeWidth": 1.2, "opacity": 1},
                  "encoding": {
                    "x": {"datum": -4.227, "type": "quantitative", "scale": {"domain": [-0.4, 20.4], "range": [168.8, 646.2], "nice": false, "zero": false}},
                    "y": {"datum": 2.845, "type": "quantitative", "scale": {"domain": [-0.145, 2.64], "range": [292.8, 52.2], "nice": false, "zero": false}}
                  }
                },
                {
                  "data": {"name": "titles"}, "transform": [{"filter": "datum.panel === 'b'"}],
                  "mark": {"type": "text", "align": "center", "baseline": "alphabetic", "fontSize": 36, "color": "#000000"},
                  "encoding": {
                    "x": {"datum": -4.314, "type": "quantitative", "scale": {"domain": [-0.4, 20.4], "range": [168.8, 646.2], "nice": false, "zero": false}},
                    "y": {"datum": 2.685, "type": "quantitative", "scale": {"domain": [-0.145, 2.64], "range": [292.8, 52.2], "nice": false, "zero": false}},
                    "text": {"field": "letter"}
                  }
                },
                {
                  "data": {"name": "titles"}, "transform": [{"filter": "datum.panel === 'b'"}],
                  "mark": {"type": "text", "align": "right", "baseline": "middle", "dx": -7, "fontSize": 27.5, "color": "#1f2e5c"},
                  "encoding": {
                    "x": {"datum": 10.85, "type": "quantitative", "scale": {"domain": [-0.4, 20.4], "range": [168.8, 646.2], "nice": false, "zero": false}},
                    "y": {"datum": 2.862, "type": "quantitative", "scale": {"domain": [-0.145, 2.64], "range": [292.8, 52.2], "nice": false, "zero": false}},
                    "text": {"field": "lead"}
                  }
                },
                {
                  "data": {"name": "titles"}, "transform": [{"filter": "datum.panel === 'b'"}],
                  "mark": {"type": "text", "align": "left", "baseline": "middle", "fontSize": 26.5, "color": "#b3151d"},
                  "encoding": {
                    "x": {"datum": 10.85, "type": "quantitative", "scale": {"domain": [-0.4, 20.4], "range": [168.8, 646.2], "nice": false, "zero": false}},
                    "y": {"datum": 2.862, "type": "quantitative", "scale": {"domain": [-0.145, 2.64], "range": [292.8, 52.2], "nice": false, "zero": false}},
                    "text": {"field": "state"}
                  }
                }
              ]
            },
            {
              "data": {"name": "legend"}, "transform": [{"filter": "datum.panel === 'b'"}],
              "encoding": {"y": {"field": "slot", "type": "quantitative", "scale": {"domain": [0, 4], "range": [89.3, 165.7], "nice": false, "zero": false}, "axis": null}},
              "layer": [
                {
                  "transform": [{"filter": "datum.kind !== 'stable'"}],
                  "mark": {"type": "text", "align": "left", "baseline": "middle", "fontSize": 16, "color": "#000000"},
                  "encoding": {"x": {"datum": 0.2614, "type": "quantitative", "scale": {"domain": [-0.4, 20.4], "range": [168.8, 646.2], "nice": false, "zero": false}}, "text": {"field": "label"}}
                },
                {
                  "transform": [{"filter": "datum.kind === 'stable'"}],
                  "mark": {"type": "text", "align": "left", "baseline": "middle", "fontSize": 16, "fontWeight": "bold", "fontStyle": "italic", "color": "#000000"},
                  "encoding": {"x": {"datum": 0.2614, "type": "quantitative", "scale": {"domain": [-0.4, 20.4], "range": [168.8, 646.2], "nice": false, "zero": false}}, "text": {"field": "label"}}
                },
                {
                  "transform": [{"filter": "datum.slot > 0"}],
                  "mark": {"type": "rule", "strokeWidth": 3.2},
                  "encoding": {
                    "x": {"datum": 2.689, "type": "quantitative", "scale": {"domain": [-0.4, 20.4], "range": [168.8, 646.2], "nice": false, "zero": false}},
                    "x2": {"datum": 4.793},
                    "color": {"field": "series", "type": "nominal", "scale": {"domain": ["MHNO", "MUNO", "MHO", "MUO"], "range": ["#1a476f", "#90353b", "#55752f", "#e37e00"]}, "legend": null}
                  }
                }
              ]
            },
            {
              "encoding": {"y": {"field": "row", "type": "quantitative", "scale": {"domain": [0, 4], "range": [355, 442], "nice": false, "zero": false}, "axis": null}},
              "layer": [
                {
                  "data": {"name": "riskLabels"}, "transform": [{"filter": "datum.panel === 'b'"}],
                  "mark": {"type": "text", "align": "left", "baseline": "middle", "font": "DejaVu Sans Condensed", "fontSize": 14.6, "color": "#8a8a8a"},
                  "encoding": {"x": {"datum": -5.229, "type": "quantitative", "scale": {"domain": [-0.4, 20.4], "range": [168.8, 646.2], "nice": false, "zero": false}}, "text": {"field": "label"}}
                },
                {
                  "data": {"name": "risk"}, "transform": [{"filter": "datum.panel === 'b' && datum.t === 0"}],
                  "mark": {"type": "text", "align": "center", "baseline": "middle", "dx": 11, "font": "DejaVu Sans Condensed", "fontSize": 17.2, "color": "#8a8a8a"},
                  "encoding": {"x": {"field": "t", "type": "quantitative", "scale": {"domain": [-0.4, 20.4], "range": [168.8, 646.2], "nice": false, "zero": false}}, "text": {"field": "n", "type": "nominal"}}
                },
                {
                  "data": {"name": "risk"}, "transform": [{"filter": "datum.panel === 'b' && datum.t > 0"}],
                  "mark": {"type": "text", "align": "center", "baseline": "middle", "dx": 2, "font": "DejaVu Sans Condensed", "fontSize": 17.2, "color": "#8a8a8a"},
                  "encoding": {"x": {"field": "t", "type": "quantitative", "scale": {"domain": [-0.4, 20.4], "range": [168.8, 646.2], "nice": false, "zero": false}}, "text": {"field": "n", "type": "nominal"}}
                }
              ]
            }
          ]
        }
      ]
    },
    {
      "spacing": 0,
      "hconcat": [
        {
          "width": 646, "height": 482,
          "resolve": {"scale": {"y": "independent"}, "axis": {"y": "independent"}},
          "layer": [
            {
              "layer": [
                {
                  "data": {"name": "curves"}, "transform": [{"filter": "datum.panel === 'c'"}],
                  "mark": {"type": "line", "interpolate": "step-after", "strokeWidth": 2.8},
                  "encoding": {
                    "x": {"field": "t", "type": "quantitative", "scale": {"domain": [-0.4, 20.4], "range": [121.8, 599.2], "nice": false, "zero": false}, "axis": {"values": [0, 5, 10, 15, 20], "title": "Time(years)", "offset": -159.7, "titleX": 377, "titleY": 46, "grid": false, "tickSize": 6, "labelFontSize": 15, "labelPadding": 6, "labelFlush": false, "titleFontSize": 17.5, "titleBaseline": "alphabetic", "titleAlign": "center"}},
                    "y": {"field": "v", "type": "quantitative", "scale": {"domain": [-0.09, 1.666], "range": [322.3, 82.3], "nice": false, "zero": false}, "axis": {"values": [0, 0.5, 1, 1.5], "format": ".2f", "title": "Cumulative risk of incident CKD", "offset": -121.8, "titleX": -27, "titleY": 204.5, "grid": true, "gridColor": "#dde8ee", "gridWidth": 1.3, "tickSize": 6, "labelFontSize": 13.5, "labelAngle": 270, "labelAlign": "center", "labelBaseline": "alphabetic", "labelPadding": 8.5, "labelFlush": false, "titleFontSize": 15.5, "titleAngle": 270, "titleAlign": "center", "titleBaseline": "alphabetic"}},
                    "color": {"field": "series", "type": "nominal", "scale": {"domain": ["MHNO", "MUNO", "MHO", "MUO"], "range": ["#1a476f", "#90353b", "#55752f", "#e37e00"]}, "legend": null}
                  }
                },
                {
                  "data": {"name": "titles"}, "transform": [{"filter": "datum.panel === 'c'"}],
                  "mark": {"type": "rect", "fill": "#ffffff", "stroke": "#7087a2", "strokeWidth": 1.3},
                  "encoding": {
                    "x": {"datum": 0.052, "type": "quantitative", "scale": {"domain": [-0.4, 20.4], "range": [121.8, 599.2], "nice": false, "zero": false}},
                    "x2": {"datum": 5.133},
                    "y": {"datum": 1.4287, "type": "quantitative", "scale": {"domain": [-0.09, 1.666], "range": [322.3, 82.3], "nice": false, "zero": false}},
                    "y2": {"datum": 0.6708}
                  }
                },
                {
                  "data": {"name": "titles"}, "transform": [{"filter": "datum.panel === 'c'"}],
                  "mark": {"type": "point", "shape": "square", "size": 1936, "filled": true, "fill": "#ffffff", "stroke": "#1a1a1a", "strokeWidth": 1.2, "opacity": 1},
                  "encoding": {
                    "x": {"datum": -4.34, "type": "quantitative", "scale": {"domain": [-0.4, 20.4], "range": [121.8, 599.2], "nice": false, "zero": false}},
                    "y": {"datum": 1.8266, "type": "quantitative", "scale": {"domain": [-0.09, 1.666], "range": [322.3, 82.3], "nice": false, "zero": false}}
                  }
                },
                {
                  "data": {"name": "titles"}, "transform": [{"filter": "datum.panel === 'c'"}],
                  "mark": {"type": "text", "align": "center", "baseline": "alphabetic", "fontSize": 36, "color": "#000000"},
                  "encoding": {
                    "x": {"datum": -4.444, "type": "quantitative", "scale": {"domain": [-0.4, 20.4], "range": [121.8, 599.2], "nice": false, "zero": false}},
                    "y": {"datum": 1.7213, "type": "quantitative", "scale": {"domain": [-0.09, 1.666], "range": [322.3, 82.3], "nice": false, "zero": false}},
                    "text": {"field": "letter"}
                  }
                },
                {
                  "data": {"name": "titles"}, "transform": [{"filter": "datum.panel === 'c'"}],
                  "mark": {"type": "text", "align": "right", "baseline": "middle", "dx": -7, "fontSize": 27.5, "color": "#1f2e5c"},
                  "encoding": {
                    "x": {"datum": 10.81, "type": "quantitative", "scale": {"domain": [-0.4, 20.4], "range": [121.8, 599.2], "nice": false, "zero": false}},
                    "y": {"datum": 1.8215, "type": "quantitative", "scale": {"domain": [-0.09, 1.666], "range": [322.3, 82.3], "nice": false, "zero": false}},
                    "text": {"field": "lead"}
                  }
                },
                {
                  "data": {"name": "titles"}, "transform": [{"filter": "datum.panel === 'c'"}],
                  "mark": {"type": "text", "align": "left", "baseline": "middle", "fontSize": 26.5, "color": "#1c9a1c"},
                  "encoding": {
                    "x": {"datum": 10.81, "type": "quantitative", "scale": {"domain": [-0.4, 20.4], "range": [121.8, 599.2], "nice": false, "zero": false}},
                    "y": {"datum": 1.8215, "type": "quantitative", "scale": {"domain": [-0.09, 1.666], "range": [322.3, 82.3], "nice": false, "zero": false}},
                    "text": {"field": "state"}
                  }
                }
              ]
            },
            {
              "data": {"name": "legend"}, "transform": [{"filter": "datum.panel === 'c'"}],
              "encoding": {"y": {"field": "slot", "type": "quantitative", "scale": {"domain": [0, 4], "range": [128.3, 205.5], "nice": false, "zero": false}, "axis": null}},
              "layer": [
                {
                  "transform": [{"filter": "datum.kind !== 'stable'"}],
                  "mark": {"type": "text", "align": "left", "baseline": "middle", "fontSize": 16, "color": "#000000"},
                  "encoding": {"x": {"datum": 0.322, "type": "quantitative", "scale": {"domain": [-0.4, 20.4], "range": [121.8, 599.2], "nice": false, "zero": false}}, "text": {"field": "label"}}
                },
                {
                  "transform": [{"filter": "datum.kind === 'stable'"}],
                  "mark": {"type": "text", "align": "left", "baseline": "middle", "fontSize": 16, "fontWeight": "bold", "fontStyle": "italic", "color": "#000000"},
                  "encoding": {"x": {"datum": 0.322, "type": "quantitative", "scale": {"domain": [-0.4, 20.4], "range": [121.8, 599.2], "nice": false, "zero": false}}, "text": {"field": "label"}}
                },
                {
                  "transform": [{"filter": "datum.slot > 0"}],
                  "mark": {"type": "rule", "strokeWidth": 3.2},
                  "encoding": {
                    "x": {"datum": 2.719, "type": "quantitative", "scale": {"domain": [-0.4, 20.4], "range": [121.8, 599.2], "nice": false, "zero": false}},
                    "x2": {"datum": 4.863},
                    "color": {"field": "series", "type": "nominal", "scale": {"domain": ["MHNO", "MUNO", "MHO", "MUO"], "range": ["#1a476f", "#90353b", "#55752f", "#e37e00"]}, "legend": null}
                  }
                }
              ]
            },
            {
              "encoding": {"y": {"field": "row", "type": "quantitative", "scale": {"domain": [0, 4], "range": [386, 472], "nice": false, "zero": false}, "axis": null}},
              "layer": [
                {
                  "data": {"name": "riskLabels"}, "transform": [{"filter": "datum.panel === 'c'"}],
                  "mark": {"type": "text", "align": "left", "baseline": "middle", "font": "DejaVu Sans Condensed", "fontSize": 14.6, "color": "#8a8a8a"},
                  "encoding": {"x": {"datum": -5.185, "type": "quantitative", "scale": {"domain": [-0.4, 20.4], "range": [121.8, 599.2], "nice": false, "zero": false}}, "text": {"field": "label"}}
                },
                {
                  "data": {"name": "risk"}, "transform": [{"filter": "datum.panel === 'c' && datum.t === 0"}],
                  "mark": {"type": "text", "align": "center", "baseline": "middle", "dx": 15, "font": "DejaVu Sans Condensed", "fontSize": 17.2, "color": "#8a8a8a"},
                  "encoding": {"x": {"field": "t", "type": "quantitative", "scale": {"domain": [-0.4, 20.4], "range": [121.8, 599.2], "nice": false, "zero": false}}, "text": {"field": "n", "type": "nominal"}}
                },
                {
                  "data": {"name": "risk"}, "transform": [{"filter": "datum.panel === 'c' && datum.t > 0"}],
                  "mark": {"type": "text", "align": "center", "baseline": "middle", "dx": 1, "font": "DejaVu Sans Condensed", "fontSize": 17.2, "color": "#8a8a8a"},
                  "encoding": {"x": {"field": "t", "type": "quantitative", "scale": {"domain": [-0.4, 20.4], "range": [121.8, 599.2], "nice": false, "zero": false}}, "text": {"field": "n", "type": "nominal"}}
                }
              ]
            }
          ]
        },
        {
          "width": 646, "height": 482,
          "resolve": {"scale": {"y": "independent"}, "axis": {"y": "independent"}},
          "layer": [
            {
              "layer": [
                {
                  "data": {"name": "curves"}, "transform": [{"filter": "datum.panel === 'd'"}],
                  "mark": {"type": "line", "interpolate": "step-after", "strokeWidth": 2.8},
                  "encoding": {
                    "x": {"field": "t", "type": "quantitative", "scale": {"domain": [-0.4, 20.4], "range": [167.8, 645.2], "nice": false, "zero": false}, "axis": {"values": [0, 5, 10, 15, 20], "title": "Time(years)", "offset": -159.7, "titleX": 423, "titleY": 46, "grid": false, "tickSize": 6, "labelFontSize": 15, "labelPadding": 6, "labelFlush": false, "titleFontSize": 17.5, "titleBaseline": "alphabetic", "titleAlign": "center"}},
                    "y": {"field": "v", "type": "quantitative", "scale": {"domain": [-0.117, 2.108], "range": [322.3, 82.2], "nice": false, "zero": false}, "axis": {"values": [0, 0.5, 1, 1.5, 2], "format": ".2f", "title": "Cumulative risk of incident CKD", "offset": -167.8, "titleX": -28.5, "titleY": 204.5, "grid": true, "gridColor": "#dde8ee", "gridWidth": 1.3, "tickSize": 6, "labelFontSize": 13.5, "labelAngle": 270, "labelAlign": "center", "labelBaseline": "alphabetic", "labelPadding": 8.5, "labelFlush": false, "titleFontSize": 15.5, "titleAngle": 270, "titleAlign": "center", "titleBaseline": "alphabetic"}},
                    "color": {"field": "series", "type": "nominal", "scale": {"domain": ["MHNO", "MUNO", "MHO", "MUO"], "range": ["#1a476f", "#90353b", "#55752f", "#e37e00"]}, "legend": null}
                  }
                },
                {
                  "data": {"name": "titles"}, "transform": [{"filter": "datum.panel === 'd'"}],
                  "mark": {"type": "rect", "fill": "#ffffff", "stroke": "#7087a2", "strokeWidth": 1.3},
                  "encoding": {
                    "x": {"datum": 0.065, "type": "quantitative", "scale": {"domain": [-0.4, 20.4], "range": [167.8, 645.2], "nice": false, "zero": false}},
                    "x2": {"datum": 5.124},
                    "y": {"datum": 1.8508, "type": "quantitative", "scale": {"domain": [-0.117, 2.108], "range": [322.3, 82.2], "nice": false, "zero": false}},
                    "y2": {"datum": 0.887}
                  }
                },
                {
                  "data": {"name": "titles"}, "transform": [{"filter": "datum.panel === 'd'"}],
                  "mark": {"type": "point", "shape": "square", "size": 1936, "filled": true, "fill": "#ffffff", "stroke": "#1a1a1a", "strokeWidth": 1.2, "opacity": 1},
                  "encoding": {
                    "x": {"datum": -4.257, "type": "quantitative", "scale": {"domain": [-0.4, 20.4], "range": [167.8, 645.2], "nice": false, "zero": false}},
                    "y": {"datum": 2.311, "type": "quantitative", "scale": {"domain": [-0.117, 2.108], "range": [322.3, 82.2], "nice": false, "zero": false}}
                  }
                },
                {
                  "data": {"name": "titles"}, "transform": [{"filter": "datum.panel === 'd'"}],
                  "mark": {"type": "text", "align": "center", "baseline": "alphabetic", "fontSize": 36, "color": "#000000"},
                  "encoding": {
                    "x": {"datum": -4.336, "type": "quantitative", "scale": {"domain": [-0.4, 20.4], "range": [167.8, 645.2], "nice": false, "zero": false}},
                    "y": {"datum": 2.178, "type": "quantitative", "scale": {"domain": [-0.117, 2.108], "range": [322.3, 82.2], "nice": false, "zero": false}},
                    "text": {"field": "letter"}
                  }
                },
                {
                  "data": {"name": "titles"}, "transform": [{"filter": "datum.panel === 'd'"}],
                  "mark": {"type": "text", "align": "right", "baseline": "middle", "dx": -7, "fontSize": 27.5, "color": "#1f2e5c"},
                  "encoding": {
                    "x": {"datum": 10.83, "type": "quantitative", "scale": {"domain": [-0.4, 20.4], "range": [167.8, 645.2], "nice": false, "zero": false}},
                    "y": {"datum": 2.305, "type": "quantitative", "scale": {"domain": [-0.117, 2.108], "range": [322.3, 82.2], "nice": false, "zero": false}},
                    "text": {"field": "lead"}
                  }
                },
                {
                  "data": {"name": "titles"}, "transform": [{"filter": "datum.panel === 'd'"}],
                  "mark": {"type": "text", "align": "left", "baseline": "middle", "fontSize": 26.5, "color": "#d9811f"},
                  "encoding": {
                    "x": {"datum": 10.83, "type": "quantitative", "scale": {"domain": [-0.4, 20.4], "range": [167.8, 645.2], "nice": false, "zero": false}},
                    "y": {"datum": 2.305, "type": "quantitative", "scale": {"domain": [-0.117, 2.108], "range": [322.3, 82.2], "nice": false, "zero": false}},
                    "text": {"field": "state"}
                  }
                }
              ]
            },
            {
              "data": {"name": "legend"}, "transform": [{"filter": "datum.panel === 'd'"}],
              "encoding": {"y": {"field": "slot", "type": "quantitative", "scale": {"domain": [0, 4], "range": [124.7, 201.7], "nice": false, "zero": false}, "axis": null}},
              "layer": [
                {
                  "transform": [{"filter": "datum.kind !== 'stable'"}],
                  "mark": {"type": "text", "align": "left", "baseline": "middle", "fontSize": 16, "color": "#000000"},
                  "encoding": {"x": {"datum": 0.305, "type": "quantitative", "scale": {"domain": [-0.4, 20.4], "range": [167.8, 645.2], "nice": false, "zero": false}}, "text": {"field": "label"}}
                },
                {
                  "transform": [{"filter": "datum.kind === 'stable'"}],
                  "mark": {"type": "text", "align": "left", "baseline": "middle", "fontSize": 16, "fontWeight": "bold", "fontStyle": "italic", "color": "#000000"},
                  "encoding": {"x": {"datum": 0.305, "type": "quantitative", "scale": {"domain": [-0.4, 20.4], "range": [167.8, 645.2], "nice": false, "zero": false}}, "text": {"field": "label"}}
                },
                {
                  "transform": [{"filter": "datum.slot > 0"}],
                  "mark": {"type": "rule", "strokeWidth": 3.2},
                  "encoding": {
                    "x": {"datum": 2.693, "type": "quantitative", "scale": {"domain": [-0.4, 20.4], "range": [167.8, 645.2], "nice": false, "zero": false}},
                    "x2": {"datum": 4.837},
                    "color": {"field": "series", "type": "nominal", "scale": {"domain": ["MHNO", "MUNO", "MHO", "MUO"], "range": ["#1a476f", "#90353b", "#55752f", "#e37e00"]}, "legend": null}
                  }
                }
              ]
            },
            {
              "encoding": {"y": {"field": "row", "type": "quantitative", "scale": {"domain": [0, 4], "range": [386, 472], "nice": false, "zero": false}, "axis": null}},
              "layer": [
                {
                  "data": {"name": "riskLabels"}, "transform": [{"filter": "datum.panel === 'd'"}],
                  "mark": {"type": "text", "align": "left", "baseline": "middle", "font": "DejaVu Sans Condensed", "fontSize": 14.6, "color": "#8a8a8a"},
                  "encoding": {"x": {"datum": -5.185, "type": "quantitative", "scale": {"domain": [-0.4, 20.4], "range": [167.8, 645.2], "nice": false, "zero": false}}, "text": {"field": "label"}}
                },
                {
                  "data": {"name": "risk"}, "transform": [{"filter": "datum.panel === 'd' && datum.t === 0"}],
                  "mark": {"type": "text", "align": "center", "baseline": "middle", "dx": 8, "font": "DejaVu Sans Condensed", "fontSize": 17.2, "color": "#8a8a8a"},
                  "encoding": {"x": {"field": "t", "type": "quantitative", "scale": {"domain": [-0.4, 20.4], "range": [167.8, 645.2], "nice": false, "zero": false}}, "text": {"field": "n", "type": "nominal"}}
                },
                {
                  "data": {"name": "risk"}, "transform": [{"filter": "datum.panel === 'd' && datum.t > 0"}],
                  "mark": {"type": "text", "align": "center", "baseline": "middle", "dx": 1, "font": "DejaVu Sans Condensed", "fontSize": 17.2, "color": "#8a8a8a"},
                  "encoding": {"x": {"field": "t", "type": "quantitative", "scale": {"domain": [-0.4, 20.4], "range": [167.8, 645.2], "nice": false, "zero": false}}, "text": {"field": "n", "type": "nominal"}}
                }
              ]
            }
          ]
        }
      ]
    }
  ]
}
